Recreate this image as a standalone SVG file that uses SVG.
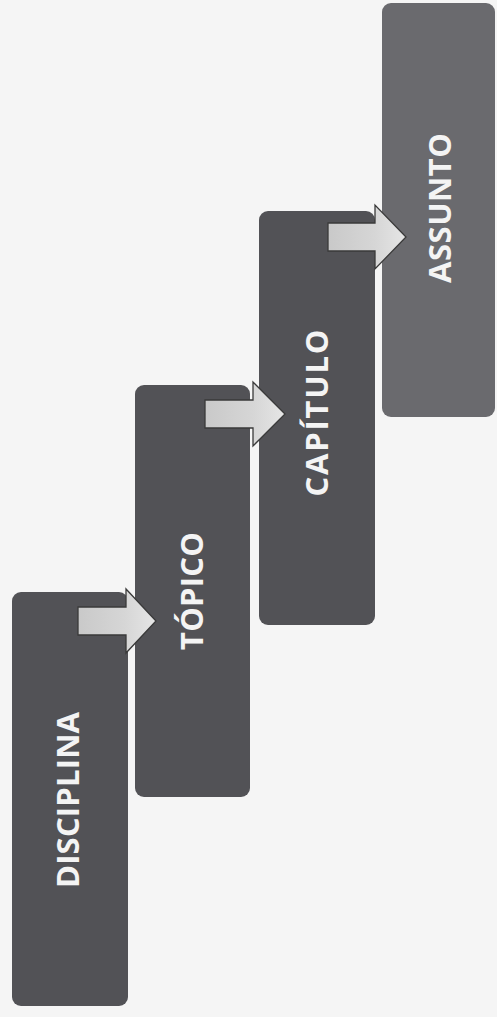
<svg xmlns="http://www.w3.org/2000/svg" width="497" height="1017" viewBox="0 0 497 1017">
  <defs>
    <linearGradient id="arrowFill" x1="0" y1="0" x2="1" y2="0">
      <stop offset="0" stop-color="#c9c9c9"/>
      <stop offset="0.6" stop-color="#d6d6d6"/>
      <stop offset="1" stop-color="#e6e6e6"/>
    </linearGradient>
  </defs>
  <style>
    .box { fill: #525256; }
    .box.light { fill: #6a6a6e; }
    .label { font-family: "Open Sans", "Liberation Sans", sans-serif; font-size: 31px; font-weight: 700; fill: #f4f4f4; text-anchor: middle; }
    .arrow { fill: url(#arrowFill); stroke: #3a3a3a; stroke-width: 1.3; stroke-linejoin: miter; }
  </style>
  <rect width="497" height="1017" fill="#f5f5f5"/>

  <g id="node-disciplina">
    <rect class="box" x="12" y="592" width="116" height="414" rx="9"/>
    <text class="label" transform="translate(79,800) rotate(-90)" textLength="176" lengthAdjust="spacing">DISCIPLINA</text>
  </g>
  <g id="node-topico">
    <rect class="box" x="135" y="385" width="115" height="412" rx="9"/>
    <text class="label" transform="translate(203,591) rotate(-90)" textLength="118" lengthAdjust="spacing">TÓPICO</text>
  </g>
  <g id="node-capitulo">
    <rect class="box" x="259" y="211" width="116" height="414" rx="9"/>
    <text class="label" transform="translate(328,413) rotate(-90)" textLength="167" lengthAdjust="spacing">CAPÍTULO</text>
  </g>
  <g id="node-assunto">
    <rect class="box light" x="382" y="3" width="113" height="414" rx="9"/>
    <text class="label" transform="translate(451,208) rotate(-90)" textLength="150" lengthAdjust="spacing">ASSUNTO</text>
  </g>

  <g id="connectors">
    <polygon class="arrow" points="78,607 126,607 126,589 156,621 126,653 126,635 78,635"/>
    <polygon class="arrow" points="205,400 253,400 253,382 285,414 253,446 253,428 205,428"/>
    <polygon class="arrow" points="328,223 375,223 375,205 406,237 375,269 375,251 328,251"/>
  </g>
</svg>
